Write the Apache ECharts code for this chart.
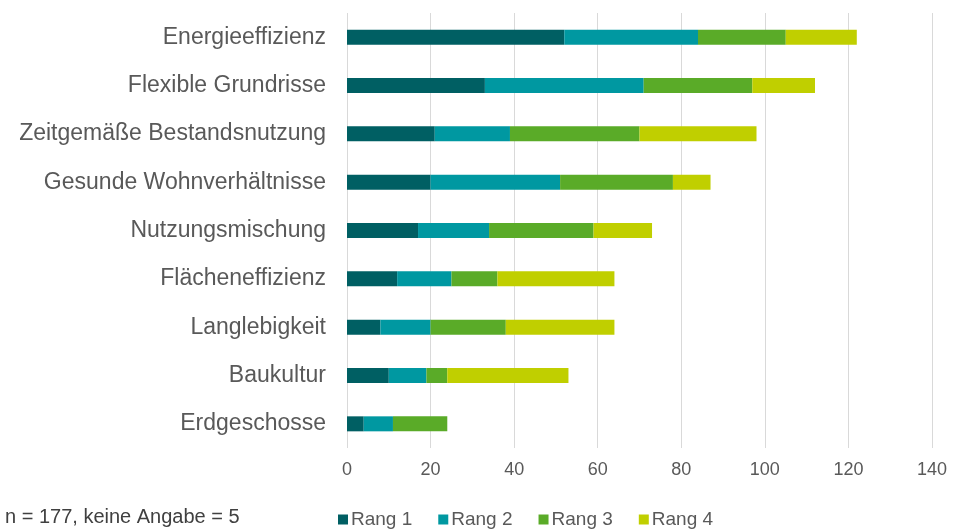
<!DOCTYPE html>
<html>
<head>
<meta charset="utf-8">
<script src="https://cdn.jsdelivr.net/npm/echarts@6/dist/echarts.min.js"></script>
<style>
  html, body { margin: 0; padding: 0; background: #fff; }
  #chart { width: 960px; height: 529px; }
</style>
</head>
<body>
<div id="chart"></div>
<script>
// Kategorien von oben nach unten
const categories = ['Energieeffizienz', 'Flexible Grundrisse', 'Zeitgemäße Bestandsnutzung',
  'Gesunde Wohnverhältnisse', 'Nutzungsmischung', 'Flächeneffizienz',
  'Langlebigkeit', 'Baukultur', 'Erdgeschosse'];
const rang1 = [52, 33, 21, 20, 17, 12, 8, 10, 4];
const rang2 = [32, 38, 18, 31, 17, 13, 12, 9, 7];
const rang3 = [21, 26, 31, 27, 25, 11, 18, 5, 13];
const rang4 = [17, 15, 28, 9, 14, 28, 26, 29, 0];
const seriesNames = ['Rang 1', 'Rang 2', 'Rang 3', 'Rang 4'];
const colors = ['#005f63', '#0098a1', '#5aab28', '#c0cf00'];
const footnote = 'n = 177, keine Angabe = 5';

const font = 'Liberation Sans, Arial, sans-serif';
const chart = echarts.init(document.getElementById('chart'));

const seriesData = [rang1, rang2, rang3, rang4];
const series = seriesNames.map((name, i) => ({
  name: name,
  type: 'bar',
  stack: 'total',
  barWidth: 15,
  data: seriesData[i],
  itemStyle: { color: colors[i] }
}));

const option = {
  animation: false,
  textStyle: { fontFamily: font },
  grid: { left: 347, right: 28, top: 13, bottom: 81 },
  legend: {
    data: seriesNames,
    left: 333,
    top: 505,
    itemWidth: 10,
    itemHeight: 10,
    itemGap: 26,
    icon: 'rect',
    textStyle: { color: '#595959', fontSize: 19, fontFamily: font, padding: [0, 0, 0, -2] }
  },
  graphic: [{
    type: 'text',
    left: 5,
    top: 507,
    style: { text: footnote, fill: '#404040', font: '20px ' + font }
  }],
  xAxis: {
    type: 'value',
    min: 0,
    max: 140,
    interval: 20,
    axisLine: { show: false },
    axisTick: { show: false },
    splitLine: { show: true, lineStyle: { color: '#d9d9d9', width: 1 } },
    axisLabel: { color: '#595959', fontSize: 18, margin: 13, fontFamily: font }
  },
  yAxis: {
    type: 'category',
    inverse: true,
    data: categories,
    axisLine: { show: false },
    axisTick: { show: false },
    axisLabel: { color: '#595959', fontSize: 23, margin: 21, fontFamily: font }
  },
  series: series
};

chart.setOption(option);
</script>
</body>
</html>
